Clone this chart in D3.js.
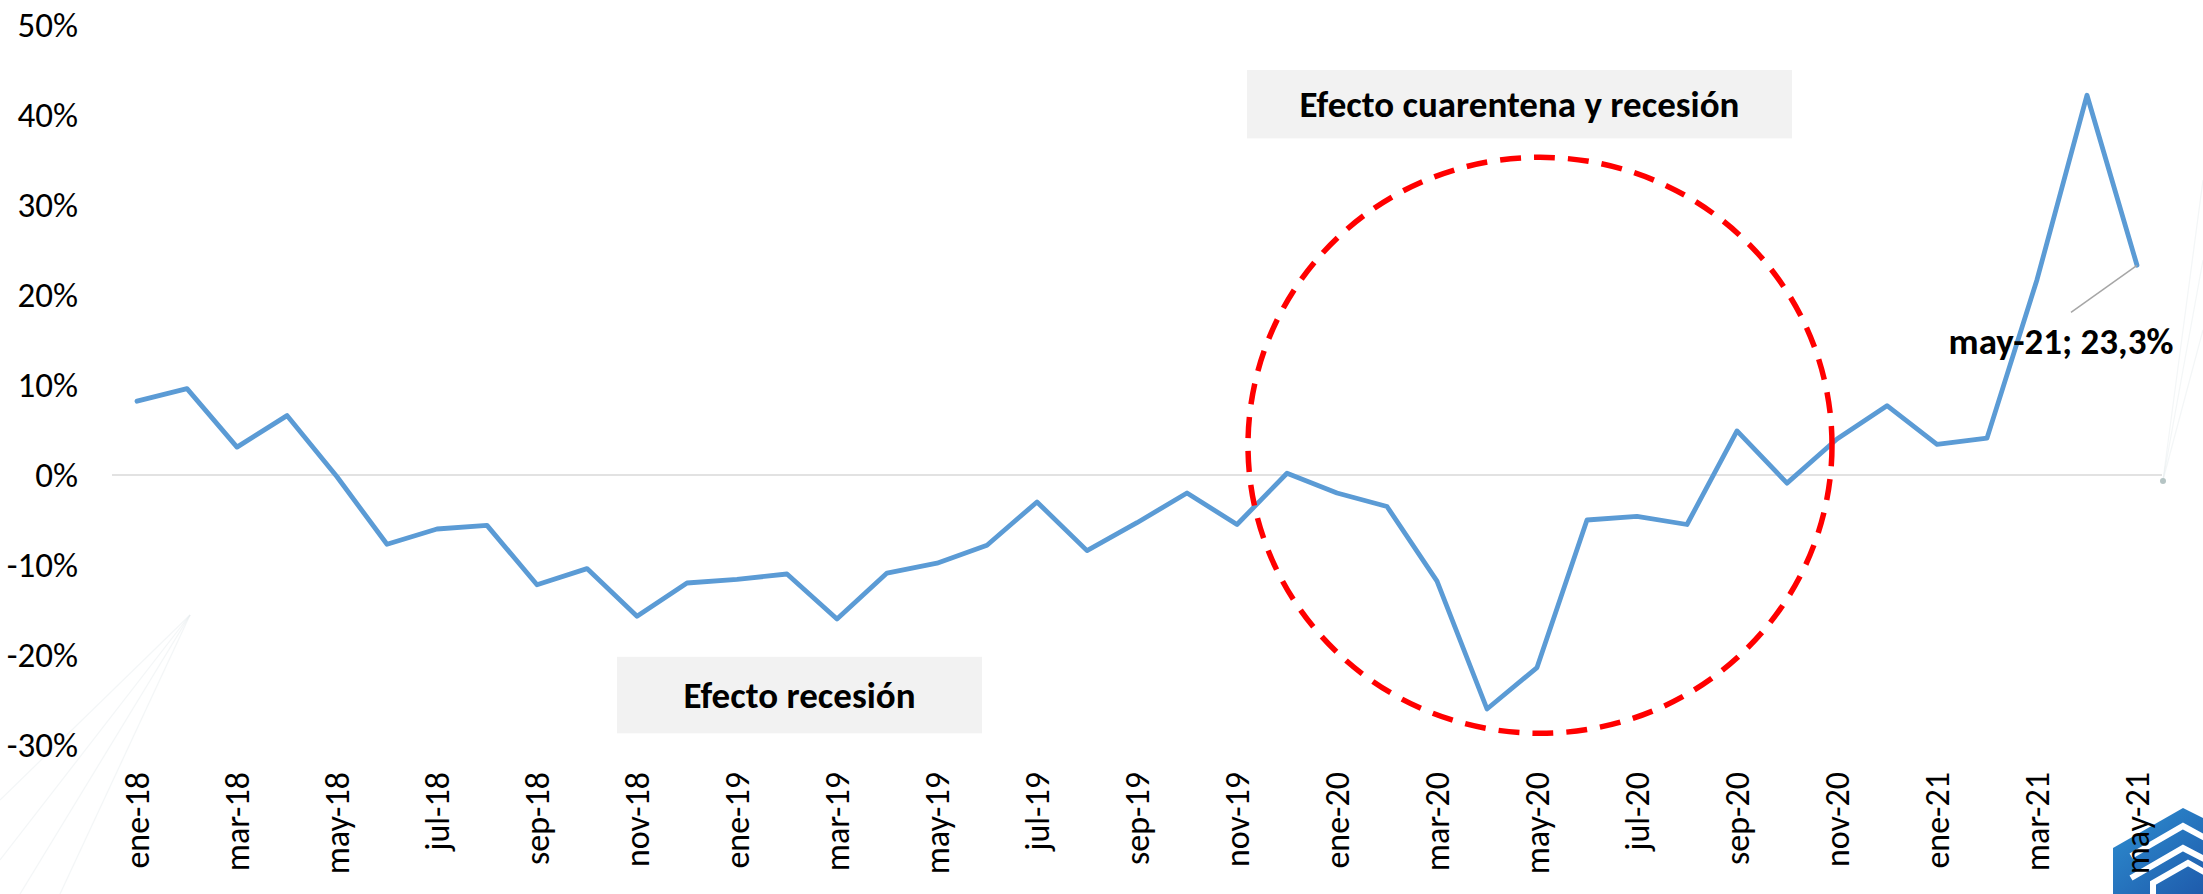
<!DOCTYPE html>
<html>
<head>
<meta charset="utf-8">
<script src="https://cdn.jsdelivr.net/npm/d3@7"></script>
<style>
	body { margin: 0; background: #fff; }
	svg { display: block; font-family: Carlito, Calibri, Lato, sans-serif; }
	.axis text { fill: #000; }
	.box-label { font-weight: bold; fill: #000; }
</style>
</head>
<body>
<div id="graphic"></div>
<script>

// =========================================
// variacion interanual, ene-18 a may-21
// =========================================

var months = ['ene-18','feb-18','mar-18','abr-18','may-18','jun-18','jul-18','ago-18','sep-18','oct-18','nov-18','dic-18',
	'ene-19','feb-19','mar-19','abr-19','may-19','jun-19','jul-19','ago-19','sep-19','oct-19','nov-19','dic-19',
	'ene-20','feb-20','mar-20','abr-20','may-20','jun-20','jul-20','ago-20','sep-20','oct-20','nov-20','dic-20',
	'ene-21','feb-21','mar-21','abr-21','may-21'];

var values = [8.2, 9.6, 3.1, 6.6, -0.2, -7.7, -6.0, -5.6, -12.2, -10.4, -15.7, -12.0,
	-11.6, -11.0, -16.0, -10.9, -9.8, -7.8, -3.0, -8.4, -5.3, -2.0, -5.5, 0.2,
	-2.0, -3.5, -11.8, -26.0, -21.4, -5.0, -4.6, -5.5, 4.9, -0.9, 4.0, 7.7,
	3.4, 4.1, 21.7, 42.2, 23.3];

var yTicks = [-30, -20, -10, 0, 10, 20, 30, 40, 50];

// labels every two months
var xTicks = months.filter(function(d, i) { return i % 2 === 0; });

var notes = ['Efecto cuarentena y recesión', 'Efecto recesión'];


renderGraphic({
	container: 'graphic',
	width: 2203,
	height: 894
});


function renderGraphic(config) {

	var width = config.width,
		height = config.height;

	var margins = { top: 25, right: 41, bottom: 149, left: 112 };

	var lineColor = '#5B9BD5';

	var locale = d3.formatLocale({ decimal: ',', thousands: '.', grouping: [3], currency: ['', ''], minus: '-' });
	var fmtTick = locale.format('.0%'),
		fmtLabel = locale.format('.1%');

	var data = months.map(function(m, i) { return { month: m, value: values[i] / 100 }; });

	var svg = d3.select('#' + config.container).append('svg')
		.attr('width', width)
		.attr('height', height);

	var x = d3.scaleBand()
		.domain(months)
		.range([margins.left, width - margins.right]);

	// fractional month position, for the annotations
	var xi = d3.scaleLinear()
		.domain([0, months.length - 1])
		.range([x(months[0]) + x.bandwidth() / 2, x(months[months.length - 1]) + x.bandwidth() / 2]);

	var y = d3.scaleLinear()
		.domain([-0.3, 0.5])
		.range([height - margins.bottom, margins.top]);

	function px(d) { return x(d.month) + x.bandwidth() / 2; }

	// 0. faint background decoration + logo
	var deco = svg.append('g').attr('class', 'deco');
	[[190, 615, 0, 860], [190, 615, 20, 894], [190, 615, 60, 894], [190, 615, 0, 800],
	 [2163, 480, 2203, 180], [2163, 480, 2203, 260], [2163, 480, 2203, 330]].forEach(function(l) {
		deco.append('line')
			.attr('x1', l[0]).attr('y1', l[1]).attr('x2', l[2]).attr('y2', l[3])
			.attr('stroke', '#e6ecee').attr('stroke-width', 1.2).attr('opacity', 0.45);
	});
	deco.append('circle').attr('cx', 2163).attr('cy', 481).attr('r', 3).attr('fill', '#b5c4c4');

	var grad = svg.append('defs').append('linearGradient')
		.attr('id', 'logoGrad').attr('x1', 0).attr('y1', 0).attr('x2', 1).attr('y2', 1);
	grad.append('stop').attr('offset', 0).attr('stop-color', '#2e8fd1');
	grad.append('stop').attr('offset', 1).attr('stop-color', '#1b4fa3');

	var logo = svg.append('g').attr('transform', 'translate(2113,808)');
	logo.append('path')
		.attr('d', 'M0,40 L70,0 L120,25 L120,100 L0,100 Z')
		.attr('fill', 'url(#logoGrad)');
	logo.append('path')
		.attr('d', 'M18,48 L70,18 L120,45 M18,70 L70,40 L120,66 M40,100 L40,75 L75,55 L120,80')
		.attr('fill', 'none').attr('stroke', '#fff').attr('stroke-width', 6);

	// 1. axes
	var yAxis = svg.append('g').attr('class', 'axis axis-y');

	yAxis.selectAll('text')
		.data(yTicks).enter()
		.append('text')
		.attr('x', 78)
		.attr('y', function(d) { return y(d / 100); })
		.attr('dy', '0.35em')
		.attr('text-anchor', 'end')
		.style('font-size', '35px')
		.text(function(d) { return fmtTick(d / 100); });

	svg.append('line')
		.attr('class', 'baseline')
		.attr('x1', x.range()[0]).attr('x2', x.range()[1])
		.attr('y1', y(0)).attr('y2', y(0))
		.attr('stroke', '#d9d9d9')
		.attr('stroke-width', 1.5);

	var xAxis = svg.append('g').attr('class', 'axis axis-x');

	xAxis.selectAll('text')
		.data(xTicks).enter()
		.append('text')
		.attr('transform', function(d) {
			return 'translate(' + (x(d) + x.bandwidth() / 2) + ',772) rotate(-90)';
		})
		.attr('dy', '0.35em')
		.attr('text-anchor', 'end')
		.style('font-size', '34px')
		.text(function(d) { return d; });

	// 2. note boxes
	var boxes = [
		{ text: notes[0], i0: 22.2, i1: 33.1, v0: 0.45, v1: 0.374 },
		{ text: notes[1], i0: 9.6, i1: 16.9, v0: -0.202, v1: -0.287 }
	];

	var box = svg.selectAll('g.note')
		.data(boxes).enter()
		.append('g').attr('class', 'note');

	box.append('rect')
		.attr('x', function(d) { return xi(d.i0); })
		.attr('y', function(d) { return y(d.v0); })
		.attr('width', function(d) { return xi(d.i1) - xi(d.i0); })
		.attr('height', function(d) { return y(d.v1) - y(d.v0); })
		.attr('fill', '#f2f2f2');

	box.append('text')
		.attr('class', 'box-label')
		.attr('x', function(d) { return (xi(d.i0) + xi(d.i1)) / 2; })
		.attr('y', function(d) { return (y(d.v0) + y(d.v1)) / 2; })
		.attr('dy', '0.35em')
		.attr('text-anchor', 'middle')
		.style('font-size', '37px')
		.text(function(d) { return d.text; });

	// 3. the series
	var line = d3.line()
		.x(px)
		.y(function(d) { return y(d.value); });

	svg.append('path')
		.datum(data)
		.attr('d', line)
		.attr('fill', 'none')
		.attr('stroke', lineColor)
		.attr('stroke-width', 4.8)
		.attr('stroke-linejoin', 'round')
		.attr('stroke-linecap', 'round');

	// 4. dashed circle round the quarantine months
	svg.append('ellipse')
		.attr('cx', xi(28.06))
		.attr('cy', y(0.033))
		.attr('rx', xi(28.06 + 5.84) - xi(28.06))
		.attr('ry', y(0.033 - 0.32) - y(0.033))
		.attr('fill', 'none')
		.attr('stroke', '#ff0000')
		.attr('stroke-width', 5.5)
		.attr('stroke-dasharray', '21 13');

	// 5. last value label
	var last = data[data.length - 1];

	svg.append('line')
		.attr('x1', px(last)).attr('y1', y(last.value))
		.attr('x2', px(last) - 66).attr('y2', y(last.value) + 47)
		.attr('stroke', '#a6a6a6')
		.attr('stroke-width', 1.5);

	svg.append('text')
		.attr('class', 'box-label')
		.attr('x', px(last) - 76)
		.attr('y', y(last.value) + 89)
		.attr('text-anchor', 'middle')
		.style('font-size', '37px')
		.text(last.month + '; ' + fmtLabel(last.value));

} // end of renderGraphic()

</script>
</body>
</html>
